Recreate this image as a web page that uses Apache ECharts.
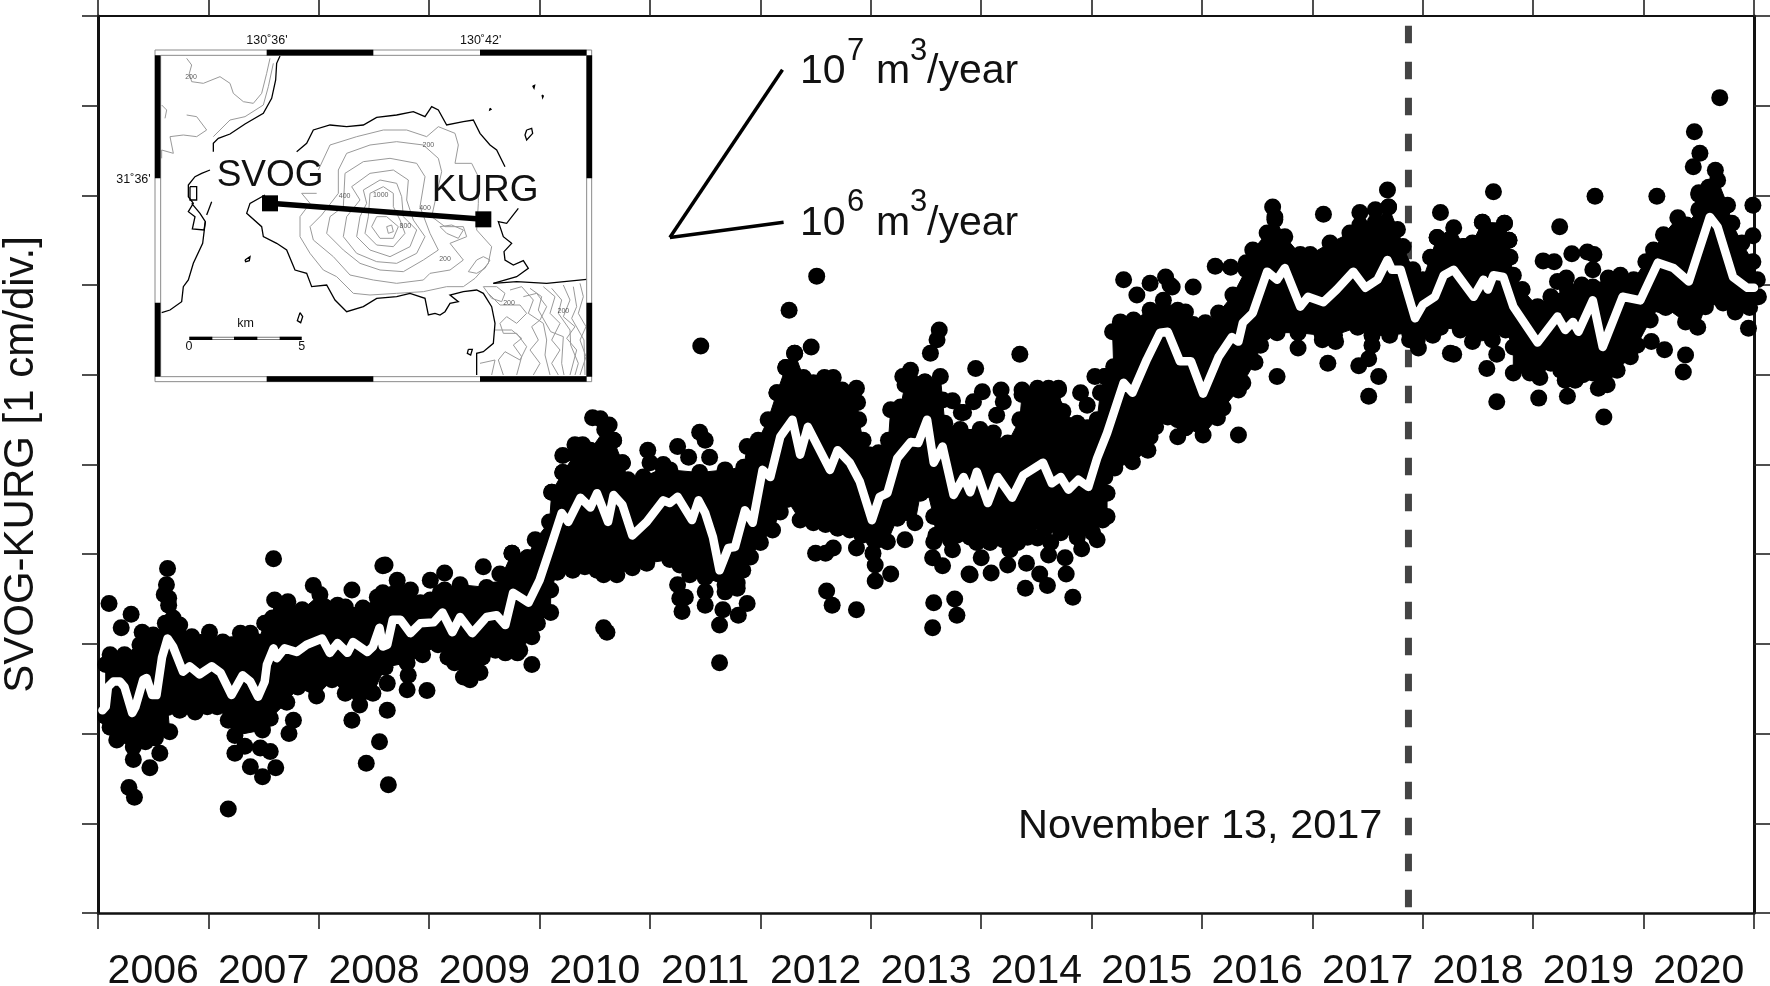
<!DOCTYPE html>
<html><head><meta charset="utf-8"><title>SVOG-KURG</title>
<script src="https://cdn.jsdelivr.net/npm/echarts@6/dist/echarts.min.js"></script>
<style>html,body{margin:0;padding:0;background:#fff}#c{width:1770px;height:986px}</style></head>
<body><div id="c"></div>
<script>
const yearLabels=['2006','2007','2008','2009','2010','2011','2012','2013','2014','2015','2016','2017','2018','2019','2020'];
const yAxisLabel='SVOG-KURG [1 cm/div.]';
const eventDate='November 13, 2017';
const eventYear=2017.87;
// running mean, x in decimal years, y in cm (relative)
const meanLine=[[2006.04,2.26],[2006.07,2.30],[2006.09,2.52],[2006.14,2.58],[2006.20,2.58],[2006.24,2.52],[2006.31,2.23],[2006.34,2.30],[2006.41,2.60],[2006.44,2.62],[2006.49,2.43],[2006.53,2.43],[2006.58,2.85],[2006.63,3.06],[2006.68,2.97],[2006.77,2.69],[2006.83,2.75],[2006.92,2.66],[2007.03,2.75],[2007.11,2.68],[2007.21,2.43],[2007.31,2.65],[2007.38,2.58],[2007.45,2.41],[2007.51,2.58],[2007.53,2.77],[2007.59,2.95],[2007.62,2.84],[2007.69,2.95],[2007.80,2.91],[2007.89,2.99],[2008.03,3.06],[2008.10,2.90],[2008.17,3.01],[2008.26,2.90],[2008.31,3.02],[2008.44,2.91],[2008.49,2.97],[2008.55,3.18],[2008.58,2.97],[2008.62,2.99],[2008.67,3.27],[2008.74,3.27],[2008.83,3.12],[2008.92,3.23],[2009.04,3.24],[2009.12,3.35],[2009.21,3.13],[2009.28,3.30],[2009.39,3.12],[2009.52,3.30],[2009.61,3.32],[2009.69,3.21],[2009.76,3.57],[2009.90,3.46],[2010.00,3.71],[2010.10,4.08],[2010.20,4.46],[2010.26,4.36],[2010.37,4.63],[2010.46,4.52],[2010.52,4.68],[2010.62,4.36],[2010.67,4.66],[2010.75,4.55],[2010.84,4.21],[2010.97,4.36],[2011.12,4.60],[2011.18,4.57],[2011.25,4.64],[2011.38,4.38],[2011.44,4.60],[2011.50,4.46],[2011.57,4.19],[2011.63,3.82],[2011.71,4.07],[2011.77,4.08],[2011.86,4.49],[2011.93,4.35],[2012.02,4.94],[2012.09,4.86],[2012.18,5.31],[2012.29,5.50],[2012.36,5.11],[2012.43,5.42],[2012.63,4.94],[2012.70,5.16],[2012.81,5.02],[2012.90,4.81],[2013.01,4.38],[2013.08,4.64],[2013.15,4.68],[2013.24,5.07],[2013.36,5.25],[2013.43,5.24],[2013.51,5.50],[2013.57,5.02],[2013.65,5.20],[2013.75,4.66],[2013.84,4.86],[2013.90,4.69],[2013.96,4.92],[2014.06,4.57],[2014.15,4.86],[2014.28,4.63],[2014.38,4.88],[2014.56,5.02],[2014.64,4.79],[2014.72,4.86],[2014.79,4.72],[2014.88,4.83],[2014.97,4.75],[2015.05,5.07],[2015.14,5.35],[2015.29,5.91],[2015.37,5.80],[2015.50,6.17],[2015.62,6.47],[2015.69,6.48],[2015.80,6.15],[2015.90,6.15],[2016.01,5.79],[2016.15,6.20],[2016.27,6.42],[2016.33,6.37],[2016.37,6.58],[2016.46,6.69],[2016.59,7.15],[2016.68,7.06],[2016.75,7.19],[2016.89,6.76],[2016.96,6.87],[2017.10,6.81],[2017.22,6.95],[2017.37,7.15],[2017.48,6.97],[2017.59,7.06],[2017.68,7.28],[2017.72,7.17],[2017.80,7.17],[2017.93,6.63],[2018.00,6.78],[2018.11,6.87],[2018.19,7.11],[2018.28,7.17],[2018.46,6.87],[2018.55,7.06],[2018.59,6.95],[2018.64,7.11],[2018.73,7.09],[2018.82,6.76],[2019.04,6.36],[2019.22,6.65],[2019.29,6.50],[2019.36,6.59],[2019.41,6.48],[2019.54,6.83],[2019.63,6.31],[2019.81,6.87],[2019.97,6.83],[2020.13,7.25],[2020.27,7.19],[2020.41,7.04],[2020.60,7.76],[2020.67,7.65],[2020.81,7.09],[2020.94,6.97],[2021.00,6.97]];
// outer edge of the dense daily measurements
const bandTop=[[2006.07,2.77],[2006.11,2.88],[2006.24,2.88],[2006.38,2.99],[2006.40,3.13],[2006.50,3.10],[2006.61,3.23],[2006.68,3.29],[2006.74,3.21],[2006.85,3.08],[2007.01,3.13],[2007.13,3.02],[2007.21,2.99],[2007.29,3.12],[2007.38,3.12],[2007.45,3.02],[2007.51,3.23],[2007.58,3.29],[2007.60,3.49],[2007.72,3.47],[2007.85,3.38],[2008.01,3.55],[2008.17,3.43],[2008.24,3.41],[2008.40,3.40],[2008.53,3.52],[2008.58,3.57],[2008.71,3.71],[2008.83,3.60],[2008.92,3.46],[2009.01,3.49],[2009.14,3.60],[2009.28,3.66],[2009.52,3.63],[2009.60,3.60],[2009.75,4.01],[2009.89,3.96],[2009.96,4.16],[2010.09,4.36],[2010.11,4.69],[2010.21,4.91],[2010.32,5.11],[2010.46,5.16],[2010.59,5.39],[2010.67,5.27],[2010.75,5.02],[2010.80,4.83],[2010.94,4.86],[2011.12,4.96],[2011.18,4.94],[2011.45,4.91],[2011.68,4.94],[2011.85,4.97],[2011.88,5.20],[2011.98,5.27],[2012.07,5.50],[2012.15,5.80],[2012.23,6.08],[2012.31,6.24],[2012.39,5.97],[2012.48,5.91],[2012.58,5.97],[2012.66,5.97],[2012.74,5.83],[2012.87,5.85],[2012.88,5.69],[2012.89,5.50],[2012.93,5.27],[2012.98,5.11],[2013.07,5.13],[2013.16,5.27],[2013.18,5.61],[2013.27,5.64],[2013.31,5.89],[2013.36,6.05],[2013.49,5.92],[2013.63,5.98],[2013.65,5.72],[2013.67,5.46],[2013.81,5.39],[2013.99,5.39],[2014.11,5.35],[2014.24,5.24],[2014.35,5.50],[2014.37,5.78],[2014.51,5.83],[2014.70,5.83],[2014.74,5.59],[2014.87,5.46],[2014.96,5.41],[2015.05,5.50],[2015.08,5.80],[2015.12,5.98],[2015.20,6.09],[2015.19,6.48],[2015.26,6.59],[2015.38,6.61],[2015.53,6.72],[2015.65,6.83],[2015.78,6.72],[2015.85,6.70],[2015.92,6.56],[2016.03,6.58],[2016.15,6.69],[2016.28,6.89],[2016.40,7.17],[2016.46,7.39],[2016.59,7.58],[2016.66,7.73],[2016.75,7.54],[2016.89,7.34],[2016.98,7.34],[2017.16,7.47],[2017.34,7.58],[2017.43,7.67],[2017.57,7.70],[2017.69,7.87],[2017.77,7.62],[2017.82,7.43],[2017.91,7.17],[2018.00,7.06],[2018.07,7.31],[2018.13,7.53],[2018.28,7.64],[2018.37,7.43],[2018.45,7.47],[2018.54,7.70],[2018.74,7.69],[2018.78,7.50],[2018.79,7.31],[2018.82,7.11],[2018.90,6.95],[2019.04,6.76],[2019.16,6.87],[2019.31,6.95],[2019.44,7.00],[2019.54,6.98],[2019.63,6.95],[2019.68,7.08],[2019.79,7.11],[2019.91,7.06],[2020.02,7.26],[2020.09,7.39],[2020.18,7.56],[2020.31,7.75],[2020.39,7.67],[2020.50,7.84],[2020.50,8.01],[2020.59,8.09],[2020.67,8.17],[2020.76,7.89],[2020.80,7.69],[2020.89,7.47],[2020.99,7.26],[2021.03,7.06]];
const bandBottom=[[2006.07,2.19],[2006.11,2.07],[2006.17,1.93],[2006.32,1.85],[2006.32,1.71],[2006.43,1.91],[2006.52,1.95],[2006.65,2.02],[2006.63,2.29],[2006.74,2.26],[2006.88,2.24],[2006.99,2.30],[2007.08,2.30],[2007.18,2.15],[2007.24,1.98],[2007.49,2.04],[2007.56,2.17],[2007.71,2.35],[2007.81,2.52],[2007.98,2.42],[2008.12,2.60],[2008.24,2.45],[2008.37,2.43],[2008.49,2.45],[2008.60,2.74],[2008.80,2.79],[2008.94,2.88],[2009.08,2.99],[2009.17,2.85],[2009.23,2.79],[2009.31,2.63],[2009.37,2.60],[2009.46,2.68],[2009.48,2.85],[2009.60,2.93],[2009.69,2.90],[2009.80,2.90],[2009.82,2.93],[2009.93,3.08],[2009.98,3.23],[2010.10,3.35],[2010.10,3.60],[2010.16,3.80],[2010.30,3.82],[2010.41,3.86],[2010.52,3.82],[2010.58,3.77],[2010.70,3.77],[2010.84,3.85],[2010.97,3.90],[2011.18,3.94],[2011.27,3.88],[2011.36,3.82],[2011.50,3.74],[2011.68,3.66],[2011.79,3.68],[2011.84,3.82],[2011.91,3.97],[2012.00,4.13],[2012.11,4.27],[2012.18,4.47],[2012.24,4.61],[2012.36,4.38],[2012.48,4.35],[2012.59,4.33],[2012.70,4.29],[2012.81,4.27],[2012.92,4.21],[2013.02,4.01],[2013.15,4.14],[2013.24,4.40],[2013.40,4.35],[2013.45,4.68],[2013.51,4.72],[2013.57,4.42],[2013.59,4.21],[2013.72,4.16],[2013.90,4.19],[2013.96,4.13],[2014.08,4.13],[2014.20,4.16],[2014.33,4.13],[2014.42,4.19],[2014.43,4.29],[2014.58,4.29],[2014.72,4.24],[2014.87,4.19],[2015.01,4.24],[2015.10,4.38],[2015.14,4.42],[2015.14,4.68],[2015.12,4.86],[2015.21,4.96],[2015.37,5.03],[2015.51,5.16],[2015.53,5.31],[2015.58,5.42],[2015.69,5.53],[2015.78,5.50],[2015.85,5.41],[2016.01,5.33],[2016.14,5.52],[2016.19,5.63],[2016.33,5.83],[2016.37,5.91],[2016.48,6.14],[2016.53,6.33],[2016.68,6.47],[2016.87,6.47],[2017.09,6.44],[2017.20,6.44],[2017.41,6.53],[2017.54,6.44],[2017.70,6.44],[2017.88,6.47],[2017.95,6.39],[2018.09,6.44],[2018.16,6.53],[2018.34,6.50],[2018.45,6.37],[2018.63,6.39],[2018.75,6.50],[2018.82,6.31],[2018.82,6.02],[2018.97,6.02],[2019.06,5.97],[2019.16,6.13],[2019.25,6.05],[2019.29,5.94],[2019.38,5.94],[2019.45,6.00],[2019.54,6.02],[2019.59,5.85],[2019.67,5.89],[2019.76,6.05],[2019.88,6.20],[2019.94,6.33],[2020.06,6.61],[2020.15,6.78],[2020.20,6.75],[2020.38,6.59],[2020.49,6.53],[2020.56,6.76],[2020.72,6.80],[2020.83,6.70],[2020.96,6.75],[2021.04,6.87]];
// separately readable measurements
const pointsUpper=[[2006.10,3.45],[2006.30,3.33],[2006.21,3.18],[2006.63,3.84],[2006.62,3.66],[2006.60,3.55],[2006.64,3.51],[2006.64,3.43],[2007.59,3.95],[2008.58,3.87],[2007.95,3.65],[2008.30,3.60],[2008.60,3.88],[2009.01,3.71],[2009.14,3.79],[2009.10,3.57],[2009.49,3.86],[2009.64,3.78],[2009.75,4.01],[2009.89,3.96],[2010.11,4.69],[2010.21,4.91],[2010.21,5.10],[2010.32,5.22],[2010.39,5.22],[2010.48,5.52],[2010.55,5.51],[2010.63,5.44],[2010.67,5.27],[2010.75,5.02],[2010.98,5.16],[2011.00,5.02],[2011.12,5.00],[2011.25,5.20],[2011.35,5.08],[2011.45,5.36],[2011.50,5.27],[2011.54,5.08],[2011.46,6.32],[2012.51,7.10],[2012.26,6.72],[2012.46,6.31],[2012.31,6.24],[2012.23,6.08],[2012.15,5.80],[2013.29,5.98],[2013.54,6.24],[2013.60,6.39],[2013.62,6.50],[2013.49,5.92],[2013.74,5.71],[2013.82,5.58],[2013.95,6.07],[2014.35,6.23],[2014.01,5.81],[2013.93,5.70],[2013.84,5.58],[2014.18,5.83],[2014.20,5.70],[2014.14,5.55],[2014.37,5.83],[2014.51,5.85],[2014.61,5.85],[2014.70,5.85],[2014.67,5.64],[2014.90,5.80],[2014.96,5.66],[2015.03,5.98],[2015.12,5.98],[2015.29,7.06],[2015.41,6.89],[2015.53,7.02],[2015.71,7.00],[2015.92,6.98],[2015.67,7.09],[2015.73,6.98],[2016.12,7.21],[2016.26,7.20],[2016.40,7.25],[2016.66,7.76],[2016.64,7.87],[2017.10,7.79],[2017.43,7.81],[2017.57,7.84],[2017.68,8.06],[2017.69,7.87],[2018.16,7.81],[2018.13,7.53],[2018.64,8.04],[2019.56,7.99],[2020.12,7.99],[2019.24,7.65],[2019.09,7.27],[2019.19,7.26],[2019.35,7.35],[2019.49,7.37],[2019.55,7.34],[2019.54,7.17],[2019.22,7.04],[2019.30,7.08],[2020.46,8.71],[2020.69,9.09],[2020.51,8.47],[2020.45,8.32],[2020.65,8.28],[2020.99,7.89],[2020.99,7.55],[2020.50,8.03],[2018.54,7.70],[2018.74,7.69],[2018.78,7.50],[2018.37,7.43]];
const pointsLower=[[2006.47,1.62],[2006.56,1.78],[2006.28,1.40],[2006.33,1.29],[2007.18,1.16],[2007.73,2.00],[2007.77,2.15],[2008.30,2.15],[2008.55,1.91],[2008.43,1.67],[2008.63,1.43],[2008.62,2.26],[2008.37,2.32],[2007.24,1.78],[2007.33,1.86],[2007.47,1.84],[2007.56,1.80],[2007.38,1.63],[2007.49,1.52],[2007.61,1.62],[2008.62,2.56],[2008.80,2.49],[2008.98,2.48],[2008.81,2.65],[2009.93,2.77],[2010.58,3.18],[2010.61,3.13],[2011.29,3.36],[2011.27,3.51],[2011.25,3.66],[2011.32,3.52],[2011.36,3.77],[2011.50,3.58],[2011.50,3.43],[2011.63,3.21],[2011.66,3.38],[2011.68,3.58],[2011.80,3.32],[2011.88,3.45],[2011.79,3.62],[2011.63,2.79],[2012.66,4.07],[2012.59,4.01],[2012.50,4.01],[2012.87,4.07],[2013.04,3.88],[2013.04,3.70],[2013.18,3.78],[2013.31,4.16],[2013.57,4.14],[2013.56,3.96],[2013.65,3.87],[2013.74,4.05],[2013.78,4.21],[2012.60,3.59],[2012.65,3.43],[2012.87,3.38],[2013.57,3.46],[2013.76,3.50],[2013.78,3.32],[2013.56,3.18],[2013.89,3.78],[2013.90,3.77],[2014.09,3.79],[2014.40,3.62],[2014.60,3.65],[2014.83,3.52],[2014.77,3.78],[2014.53,3.78],[2014.24,3.88],[2014.41,3.90],[2014.00,3.96],[2014.91,4.06],[2015.05,4.16],[2014.61,3.99],[2014.76,3.96],[2014.26,4.05],[2014.51,4.18],[2014.63,4.13],[2016.33,5.33],[2015.78,5.31],[2015.85,5.41],[2016.68,5.98],[2017.14,6.13],[2017.42,6.10],[2017.51,6.18],[2017.54,6.33],[2017.60,5.98],[2017.51,5.76],[2016.87,6.30],[2017.09,6.39],[2017.21,6.37],[2018.28,6.23],[2017.88,6.39],[2017.96,6.30],[2018.25,6.24],[2018.67,6.23],[2018.58,6.07],[2018.67,5.70],[2019.05,5.74],[2019.31,5.76],[2019.64,5.53],[2020.07,6.37],[2020.19,6.28],[2020.38,6.22],[2020.36,6.03],[2020.95,6.52]];
// volume-rate scale wedge
const rate7=[[2011.18,7.53],[2012.20,9.40]];
const rate6=[[2011.18,7.53],[2012.21,7.70]];
// inset map (arbitrary map units)
const coast=[
[[450,78],[440,100],[437,150],[425,205],[400,250],[345,282],[300,312],[265,325],[250,340],[250,365]],
[[240,420],[215,430],[195,440],[175,465],[175,500],[190,520],[175,545],[195,560],[187,597],[222,600],[226,575],[210,550],[185,520]],
[[226,575],[218,640],[190,700],[175,750],[160,770],[155,815],[120,840],[95,848]],
[[180,470],[200,470],[200,510],[180,510],[180,470]],
[[245,515],[230,555]],
[[500,365],[530,340],[550,300],[600,285],[650,290],[700,285],[740,262],[800,255],[850,245],[885,260],[905,230],[925,240],[950,285],[1000,275],[1030,270],[1050,310],[1080,345],[1100,360],[1125,410]],
[[1165,535],[1130,580],[1105,575],[1120,620],[1145,640],[1122,665],[1125,690],[1150,705],[1180,692],[1195,715],[1160,740],[1090,760]],
[[405,495],[360,520],[350,550],[395,590],[400,620],[440,640],[470,660],[495,720],[530,730],[545,770],[590,765],[615,810],[650,845],[700,830],[740,805],[800,800],[840,790],[885,805],[895,855],[915,850],[930,855],[945,845],[960,820],[985,815],[960,795],[1000,785],[1040,780],[1060,790],[1085,830],[1095,880],[1090,940],[1060,965],[1040,970],[1040,1035]],
[[1090,760],[1160,755],[1250,760],[1370,748]],
[[1190,300],[1205,295],[1208,310],[1190,330],[1185,315],[1190,300]],
[[510,848],[518,860],[512,878],[502,872],[510,848]],
[[1015,958],[1027,958],[1022,975],[1012,970],[1015,958]],
[[345,690],[360,680],[358,692],[347,695],[345,690]],
[[1208,168],[1214,166],[1212,175],[1208,168]],[[1236,195],[1240,198],[1238,203],[1236,195]],[[1080,235],[1083,238],[1079,240],[1080,235]]];
const contours=[
[[170,85],[185,105],[178,130],[185,155],[220,160],[270,140],[300,160],[310,190],[340,215],[370,220],[395,190],[410,130],[420,85]],
[[95,225],[110,240],[105,265]],
[[170,255],[200,260],[230,300],[200,320],[160,315],[120,320],[130,370],[95,360],[95,385]],
[[250,320],[300,270],[345,260],[400,225],[415,170],[430,100]],
[[565,420],[600,345],[680,320],[760,300],[830,300],[890,320],[925,290],[975,310],[985,345],[975,400],[1025,400],[1045,440],[1045,520],[1040,600],[1085,650],[1075,700],[1035,745],[1000,770],[950,770],[880,785],[800,790],[720,795],[670,790],[620,740],[580,720],[540,670],[510,620],[510,560],[540,520],[515,490],[560,490]],
[[625,420],[650,370],[720,345],[800,335],[880,345],[925,385],[935,425],[905,560],[945,590],[1000,590],[1010,620],[960,640],[1000,690],[960,720],[900,730],[880,750],[800,760],[730,750],[660,735],[610,680],[550,630],[540,590],[575,555],[625,490],[625,420]],
[[645,430],[700,395],[780,385],[860,400],[885,440],[870,530],[900,610],[925,660],[880,690],[820,725],[750,720],[690,700],[640,660],[590,610],[600,560],[640,530],[645,430]],
[[665,470],[720,430],[790,420],[835,450],[830,510],[850,570],[885,620],[860,670],[800,700],[740,695],[680,670],[640,620],[650,560],[690,510],[665,470]],
[[700,480],[750,450],[800,460],[815,500],[820,560],[860,600],[840,650],[780,680],[720,660],[680,620],[690,560],[710,520],[700,480]],
[[720,490],[760,470],[790,490],[790,530],[810,570],[825,610],[790,650],[740,645],[705,610],[715,560],[720,490]],
[[740,560],[770,560],[805,590],[790,625],[750,625],[725,590],[740,560]],
[[770,590],[785,585],[790,605],[775,610],[770,590]],
[[1060,770],[1100,770],[1125,790],[1115,815],[1085,805],[1060,770]],
[[1075,790],[1110,825],[1170,825],[1190,850],[1160,880],[1130,860],[1110,880],[1120,910],[1160,910],[1190,950],[1170,990],[1125,965],[1105,990],[1120,1035]],
[[1180,800],[1220,790],[1250,830],[1230,870],[1205,890],[1225,930],[1200,960],[1230,1000],[1210,1035]],
[[1240,770],[1275,800],[1260,850],[1290,880],[1265,930],[1290,960],[1265,1000],[1285,1035]],
[[1300,765],[1320,810],[1300,860],[1335,890],[1310,925],[1340,960],[1320,1035]],
[[1350,760],[1360,800],[1345,850],[1368,890],[1350,930],[1368,980],[1350,1035]],
[[1095,900],[1145,900],[1175,925],[1150,945],[1175,980],[1160,1035]],
[[1050,1000],[1095,990],[1085,1035]],
[[1140,780],[1175,770],[1210,810],[1195,850],[1240,880],[1250,930],[1245,975],[1260,1035]],
[[1200,775],[1235,800],[1225,840],[1262,905],[1300,920],[1295,1000],[1302,1035]],
[[1265,775],[1295,810],[1285,850],[1320,900],[1322,945],[1345,1000],[1335,1035]],
[[1330,770],[1340,830],[1325,865],[1362,930],[1365,1035]],
[[1040,690],[1060,680],[1080,690],[1065,715],[1040,730],[1015,725],[1040,690]],
[[930,590],[965,585],[1000,600],[985,625],[950,610],[930,590]]];
const contourLabels=[['200',183,142],['200',895,345],['400',644,498],['1000',752,495],['400',885,535],['800',826,588],['200',945,688],['200',1137,818],['200',1300,842]];
const mapFrameOutline=[[[75,60],[1385,60],[1385,1055],[75,1055],[75,60]],[[92,76],[1370,76],[1370,1040],[92,1040],[92,76]]];
const mapFrameBlack=[[[410,68],[730,68]],[[1050,68],[1370,68]],[[410,1047],[730,1047]],[[1050,1047],[1370,1047]],[[83,76],[83,445]],[[83,818],[83,1040]],[[1378,76],[1378,445]],[[1378,818],[1378,1040]]];
const scaleBarBlack=[[[178,925],[247,925]],[[312,925],[382,925]],[[449,925],[515,925]]];
const scaleBarAll=[[[178,925],[515,925]]];
const stations=[[420,520],[1060,568]];
const mapLabels=[['SVOG',260,465,37],['KURG',905,512,37]];
const scaleLabels=[['km',347,892],['0',177,963],['5',515,963]];
const mapTicks=[["130˚36'",411,33],["130˚42'",1052,33]];
const mapTicksLeft=[["31˚36'",62,450]];

const F='"Liberation Sans",Arial,sans-serif';
const black='#000';
const dot=17;
const chart=echarts.init(document.getElementById('c'),null,{renderer:'canvas'});
function baseText(t,x,baseline,size,extra){return Object.assign({type:'text',silent:true,z:50,style:{text:t,x:x,y:baseline-0.26*size,font:size+'px '+F,fill:'#111',align:'left',verticalAlign:'middle'}},extra||{});}
function mapLines(data,color,width,z){return {type:'lines',coordinateSystem:'cartesian2d',xAxisIndex:3,yAxisIndex:2,polyline:true,silent:true,z:z,animation:false,effect:{show:false},
  lineStyle:{color:color,width:width,opacity:1},data:data.map(c=>({coords:c}))};}
const dotStyle={color:black,opacity:1};
const option={
 animation:false,backgroundColor:'#fff',
 textStyle:{fontFamily:F},
 grid:[{left:98,right:16,top:16,bottom:73,containLabel:false,outerBoundsMode:'none'},{left:130,top:30,width:480,height:360,outerBoundsMode:'none'}],
 xAxis:[
  {type:'category',gridIndex:0,position:'bottom',data:yearLabels,boundaryGap:true,
   axisLine:{onZero:false,lineStyle:{color:'#111',width:2.5}},axisTick:{show:true,interval:0,length:16,inside:false,lineStyle:{color:'#222',width:1.6}},
   axisLabel:{show:true,interval:0,fontSize:41,color:'#111',fontFamily:F,margin:38},splitLine:{show:false}},
  {type:'category',gridIndex:0,position:'top',data:yearLabels,boundaryGap:true,
   axisLine:{onZero:false,lineStyle:{color:'#111',width:2}},axisTick:{show:true,interval:0,length:16,lineStyle:{color:'#222',width:1.6}},
   axisLabel:{show:false},splitLine:{show:false}},
  {type:'value',gridIndex:0,min:2006,max:2021,show:false,splitLine:{show:false}},
  {type:'value',gridIndex:1,min:0,max:1440,show:false,splitLine:{show:false}}
 ],
 yAxis:[
  {type:'value',gridIndex:0,position:'left',min:0,max:10,interval:1,name:yAxisLabel,nameLocation:'middle',nameRotate:90,nameGap:56,
   nameTextStyle:{fontSize:42,color:'#111',fontFamily:F},
   axisLine:{show:true,onZero:false,lineStyle:{color:'#111',width:3}},axisTick:{show:true,length:16,lineStyle:{color:'#222',width:1.6}},axisLabel:{show:false},splitLine:{show:false}},
  {type:'value',gridIndex:0,position:'right',min:0,max:10,interval:1,
   axisLine:{show:true,onZero:false,lineStyle:{color:'#111',width:3}},axisTick:{show:true,length:16,lineStyle:{color:'#222',width:1.6}},axisLabel:{show:false},splitLine:{show:false}},
  {type:'value',gridIndex:1,min:0,max:1080,inverse:true,show:false,splitLine:{show:false}}
 ],
 series:[
  {name:'event',type:'line',xAxisIndex:2,yAxisIndex:0,z:2,showSymbol:false,symbol:'none',silent:true,clip:false,
   lineStyle:{color:'#444',width:7,type:[17.5,18.5],cap:'butt'},data:[[eventYear,9.89],[eventYear,0]]},
  {name:'band',type:'custom',xAxisIndex:2,yAxisIndex:0,z:3,silent:true,clip:false,data:[[2006,0]],
   renderItem:function(p,api){
     const pts=bandTop.concat(bandBottom.slice().reverse()).map(d=>api.coord(d));
     return {type:'polygon',shape:{points:pts},style:{fill:black,stroke:black,lineWidth:1}};
   }},
  {name:'edgeTop',type:'scatter',xAxisIndex:2,yAxisIndex:0,z:4,silent:true,clip:false,symbolSize:dot,itemStyle:dotStyle,data:bandTop},
  {name:'edgeBottom',type:'scatter',xAxisIndex:2,yAxisIndex:0,z:4,silent:true,clip:false,symbolSize:dot,itemStyle:dotStyle,data:bandBottom},
  {name:'upper',type:'scatter',xAxisIndex:2,yAxisIndex:0,z:4,silent:true,clip:false,symbolSize:dot,itemStyle:dotStyle,data:pointsUpper},
  {name:'lower',type:'scatter',xAxisIndex:2,yAxisIndex:0,z:4,silent:true,clip:false,symbolSize:dot,itemStyle:dotStyle,data:pointsLower},
  {name:'mean',type:'line',xAxisIndex:2,yAxisIndex:0,z:6,symbol:'none',showSymbol:false,silent:true,clip:false,smooth:false,
   lineStyle:{color:'#fff',width:8.5,cap:'round',join:'round'},data:meanLine},
  {name:'rate7',type:'line',xAxisIndex:2,yAxisIndex:0,z:6,symbol:'none',showSymbol:false,silent:true,lineStyle:{color:'#000',width:3.5},data:rate7},
  {name:'rate6',type:'line',xAxisIndex:2,yAxisIndex:0,z:6,symbol:'none',showSymbol:false,silent:true,lineStyle:{color:'#000',width:3.5},data:rate6},
  mapLines(contours,'#9a9a9a',1,10),
  mapLines(coast,'#000',1.3,11),
  mapLines(mapFrameOutline,'#8a8a8a',1,12),
  mapLines(mapFrameBlack,'#000',5.6,13),
  mapLines(scaleBarAll,'#777',3.4,13),
  mapLines(scaleBarAll.map(c=>c),'#fff',1.4,14),
  mapLines(scaleBarBlack,'#000',3.4,15),
  {name:'line',type:'line',xAxisIndex:3,yAxisIndex:2,z:16,symbol:'none',showSymbol:false,silent:true,lineStyle:{color:'#000',width:5.5},data:stations},
  {name:'stations',type:'scatter',xAxisIndex:3,yAxisIndex:2,z:17,symbol:'rect',symbolSize:16,silent:true,itemStyle:{color:'#000',opacity:1},data:stations},
  {name:'contourLabels',type:'scatter',xAxisIndex:3,yAxisIndex:2,z:12,symbolSize:0,silent:true,
   data:contourLabels.map(d=>({value:[d[1],d[2]],name:d[0]})),
   label:{show:true,position:'inside',formatter:'{b}',fontSize:7,color:'#333',fontFamily:F}}
 ],
 graphic:{elements:[]}
};
chart.setOption(option);
// text placed through the same scales
function mp(x,y){return chart.convertToPixel({gridIndex:1},[x,y]);}
function dp(x,y){return chart.convertToPixel({xAxisIndex:2,yAxisIndex:0},[x,y]);}
const g=[];
mapLabels.forEach(d=>{const p=mp(d[1],d[2]);g.push(baseText(d[0],p[0],p[1],d[3]));});
scaleLabels.forEach(d=>{const p=mp(d[1],d[2]);g.push({type:'text',silent:true,z:50,style:{text:d[0],x:p[0],y:p[1]-4,font:'12.5px '+F,fill:'#111',align:'center',verticalAlign:'middle'}});});
mapTicks.forEach(d=>{const p=mp(d[1],d[2]);g.push({type:'text',silent:true,z:50,style:{text:d[0],x:p[0],y:p[1],font:'12.5px '+F,fill:'#111',align:'center',verticalAlign:'middle'}});});
mapTicksLeft.forEach(d=>{const p=mp(d[1],d[2]);g.push({type:'text',silent:true,z:50,style:{text:d[0],x:p[0],y:p[1],font:'12.5px '+F,fill:'#111',align:'right',verticalAlign:'middle'}});});
const ev=dp(eventYear,1);
g.push({type:'text',silent:true,z:50,style:{text:eventDate,x:ev[0]-26,y:ev[1]+3,font:'41.5px '+F,fill:'#111',align:'right',verticalAlign:'middle'}});
[['7',82,60],['6',234,211]].forEach(r=>{
 g.push(baseText('10',800,r[1],41));
 g.push(baseText(r[0],847,r[2],31));
 g.push(baseText('m',876,r[1],41));
 g.push(baseText('3',910,r[2],31));
 g.push(baseText('/year',927,r[1],41));
});
chart.setOption({graphic:{elements:g}});
</script></body></html>
